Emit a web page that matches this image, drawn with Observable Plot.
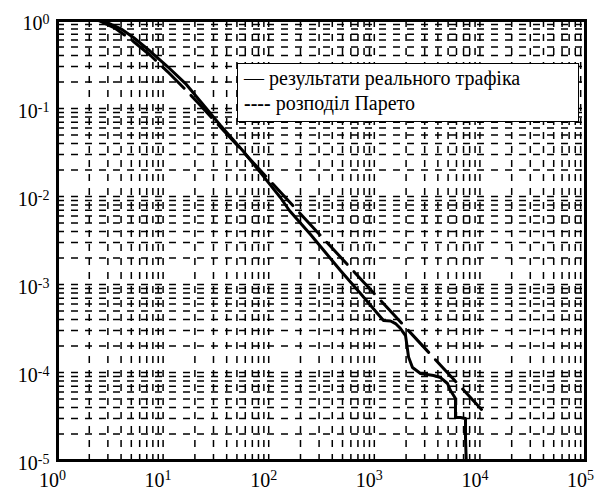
<!DOCTYPE html>
<html><head><meta charset="utf-8">
<script src="https://cdn.jsdelivr.net/npm/d3@7"></script>
<script src="https://cdn.jsdelivr.net/npm/@observablehq/plot@0.6"></script>
</head>
<body style="margin:0;font-size:20px;font-family:'Liberation Serif', serif">
<div id="out"></div>
<script>
const realX = [2.67, 3.95, 5.24, 7.60, 11.0, 16.3, 22.6, 35.0, 57.7, 83.6, 129, 157, 249, 345, 478, 740, 1072, 1222, 1424, 1588, 1771, 1975, 2030, 2109, 2299, 2738, 3636, 4236, 4934, 5267, 5873, 5873, 6551, 7305, 7305, 7465];
const realY = [1.0, 0.811, 0.641, 0.444, 0.300, 0.192, 0.120, 0.0641, 0.0325, 0.0187, 0.00974, 0.00693, 0.00370, 0.00231, 0.00144, 0.000790, 0.000468, 0.000390, 0.000385, 0.000360, 0.000316, 0.000263, 0.000210, 0.000150, 0.000114, 0.0000974, 0.0000924, 0.0000877, 0.0000750, 0.0000624, 0.0000507, 0.0000308, 0.0000308, 0.0000300, 0.0000183, 0.000008];
// Pareto distribution (dashed)
const paretoX = [2.44, 3.54, 5.24, 7.60, 11.0, 16.3, 22.6, 187, 10356];
const paretoY = [1.0, 0.811, 0.577, 0.400, 0.263, 0.164, 0.108, 0.00693, 0.0000380];
// Axis ticks
const xTicks = [1, 10, 100, 1000, 10000, 100000];
const yTicks = [1e-5, 1e-4, 1e-3, 1e-2, 1e-1, 1];
const legendLabels = ["результати реального трафіка", "розподіл Парето"];

const realData = realX.map((x, i) => ({x, y: realY[i]}));
const paretoData = paretoX.map((x, i) => ({x, y: paretoY[i]}));
const xGrid = d3.scaleLog().domain([1, 1e5]).ticks();
const yGrid = d3.scaleLog().domain([1e-5, 1]).ticks();
const fmt = d => `10^${Math.round(Math.log10(d))}`;
const fam = '"Liberation Serif", "Times New Roman", serif';

const out = document.getElementById("out");
out.style.position = "relative";
out.style.width = "602px";
out.style.height = "493px";
out.style.background = "white";

const chart = Plot.plot({
  width: 602,
  height: 493,
  marginLeft: 57,
  marginRight: 17,
  marginTop: 20,
  marginBottom: 33,
  style: {fontFamily: fam, fontSize: "20px"},
  x: {type: "log", domain: [1, 1e5]},
  y: {type: "log", domain: [1e-5, 1]},
  marks: [
    Plot.ruleX(xGrid, {stroke: "black", strokeWidth: 1.5, strokeDasharray: "7,7"}),
    Plot.ruleY(yGrid, {stroke: "black", strokeWidth: 1.5, strokeDasharray: "7,7"}),
    Plot.line(paretoData, {x: "x", y: "y", stroke: "black", strokeWidth: 3, strokeDasharray: "30,10", clip: true}),
    Plot.line(realData, {x: "x", y: "y", stroke: "black", strokeWidth: 3, strokeLinejoin: "round", clip: true}),
    Plot.axisX({ticks: xTicks, tickFormat: fmt, tickSize: 0, tickPadding: 12, dx: -5, label: null}),
    Plot.axisY({ticks: yTicks, tickFormat: fmt, tickSize: 0, tickPadding: 8, dy: 3, label: null}),
    Plot.frame({stroke: "black", strokeWidth: 3})
  ]
});

chart.querySelectorAll("text").forEach(t => {
  const m = t.textContent.match(/^10\^(.+)$/);
  if (m) {
    t.textContent = "10";
    const ts = document.createElementNS("http://www.w3.org/2000/svg", "tspan");
    ts.setAttribute("dy", "-0.45em");
    ts.setAttribute("font-size", "14");
    ts.textContent = m[1];
    t.appendChild(ts);
  }
});
out.appendChild(chart);

const legend = document.createElement("div");
legend.style.fontFamily = fam;
legend.style.position = "absolute";
legend.style.left = "237px";
legend.style.top = "63px";
legend.style.width = "334px";
legend.style.height = "55px";
legend.style.background = "white";
legend.style.border = "1.5px solid black";
legend.style.padding = "2px 0 0 6px";
legend.style.fontSize = "20px";
legend.style.lineHeight = "25px";
legend.style.whiteSpace = "nowrap";
const l1 = document.createElement("div");
l1.textContent = "— " + legendLabels[0];
const l2 = document.createElement("div");
const b = document.createElement("b");
b.textContent = "----";
l2.appendChild(b);
l2.appendChild(document.createTextNode(" " + legendLabels[1]));
legend.appendChild(l1);
legend.appendChild(l2);
out.appendChild(legend);

// Re-apply the serif family once the local font is confirmed loaded
function applyFont() {
  chart.setAttribute("font-family", fam);
  chart.style.fontFamily = fam;
  chart.querySelectorAll("text, tspan").forEach(t => t.style.fontFamily = fam);
  legend.style.fontFamily = fam;
  legend.querySelectorAll("*").forEach(e => e.style.fontFamily = fam);
}
applyFont();
if (document.fonts && document.fonts.load) {
  Promise.all([
    document.fonts.load('20px "Liberation Serif"'),
    document.fonts.load('bold 20px "Liberation Serif"')
  ]).then(applyFont, applyFont);
}
</script>
</body></html>
